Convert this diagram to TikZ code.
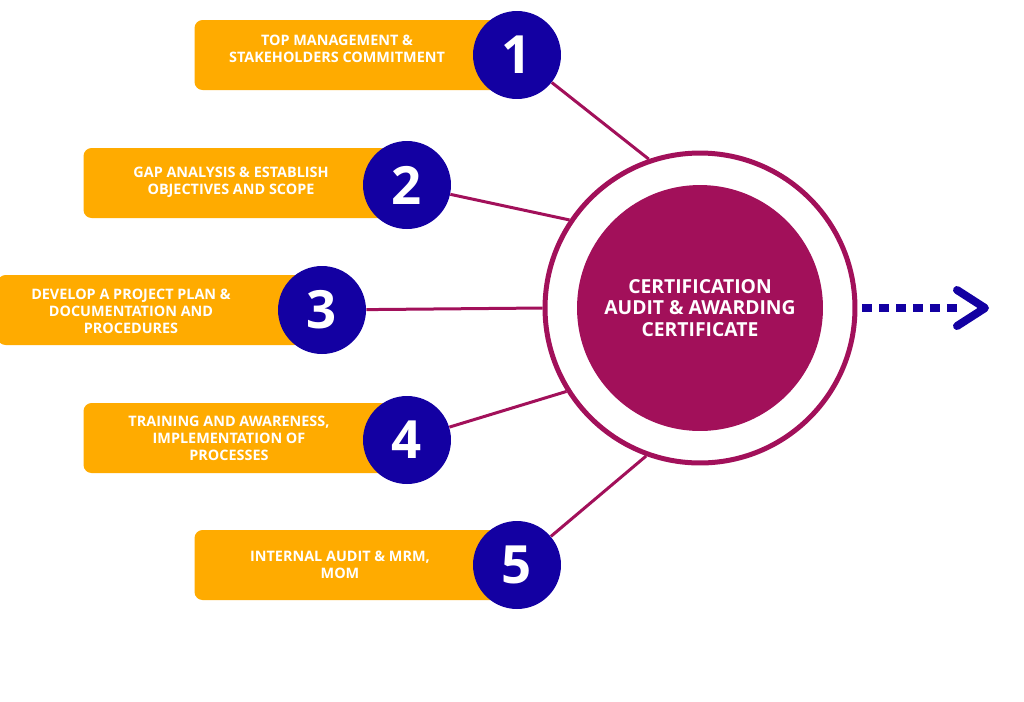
\documentclass[tikz,border=0pt]{standalone}
\usepackage{fontspec}
\setmainfont{Open Sans}
\definecolor{stepamber}{HTML}{FFAB00}
\definecolor{stepblue}{HTML}{1300A2}
\definecolor{ringplum}{HTML}{A2105A}
\tikzset{
  stepbox/.style={fill=stepamber, rounded corners=0.16cm, minimum width=6.1cm, minimum height=1.4cm},
  steptext/.style={text=white, font=\bfseries\fontsize{8.2}{9.6}\selectfont, align=center},
  stepnum/.style={circle, fill=stepblue, minimum size=1.76cm, inner sep=0pt, text=white, font=\bfseries\fontsize{30}{30}\selectfont},
  spoke/.style={draw=ringplum, line width=0.06cm}
}
\begin{document}
\begin{tikzpicture}[x=0.02cm, y=-0.02cm]
  \useasboundingbox (0,0) rectangle (1024,701);
  % step boxes
  \node[stepbox] (box1) at (347,55) {};
  \node[stepbox] (box2) at (236,183) {};
  \node[stepbox] (box3) at (150,310) {};
  \node[stepbox] (box4) at (236,438) {};
  \node[stepbox] (box5) at (347,565) {};
  \node[steptext] (txt1) at (337,49) {TOP MANAGEMENT \&\\STAKEHOLDERS COMMITMENT};
  \node[steptext] (txt2) at (231,182) {GAP ANALYSIS \& ESTABLISH\\OBJECTIVES AND SCOPE};
  \node[steptext] (txt3) at (131,311) {DEVELOP A PROJECT PLAN \&\\DOCUMENTATION AND\\PROCEDURES};
  \node[steptext] (txt4) at (229,438) {TRAINING AND AWARENESS,\\IMPLEMENTATION OF\\PROCESSES};
  \node[steptext] (txt5) at (340,565) {INTERNAL AUDIT \& MRM,\\MOM};
  % centre
  \node[circle, draw=ringplum, line width=0.1cm, minimum size=6.2cm] (ring) at (700,308) {};
  \node[circle, fill=ringplum, minimum size=4.92cm, text=white, align=center,
        font=\bfseries\fontsize{11}{12}\selectfont] (core) at (700,308)
        {CERTIFICATION\\AUDIT \& AWARDING\\CERTIFICATE};
  % numbers
  \node[stepnum] (num1) at (517,55) {1};
  \node[stepnum] (num2) at (407,185) {2};
  \node[stepnum] (num3) at (322,310) {3};
  \node[stepnum] (num4) at (407,440) {4};
  \node[stepnum] (num5) at (517,565) {5};
  % spokes
  \draw[spoke] (num1) -- (ring.109);
  \draw[spoke] (num2) -- (ring.146);
  \draw[spoke] (num3) -- (ring.180);
  \draw[spoke] (num4) -- (ring.212);
  \draw[spoke] (num5) -- (ring.250);
  % outgoing arrow
  \coordinate (tail) at (862,308);
  \coordinate (tip) at (985,308);
  \draw[stepblue, line width=0.16cm, dash pattern=on 0.2cm off 0.14cm] (tail) -- (960,308);
  \draw[stepblue, line width=0.16cm, line cap=round, line join=round]
    ([shift={(-28,-18)}]tip) -- (tip) -- ([shift={(-28,18)}]tip);
\end{tikzpicture}
\end{document}
